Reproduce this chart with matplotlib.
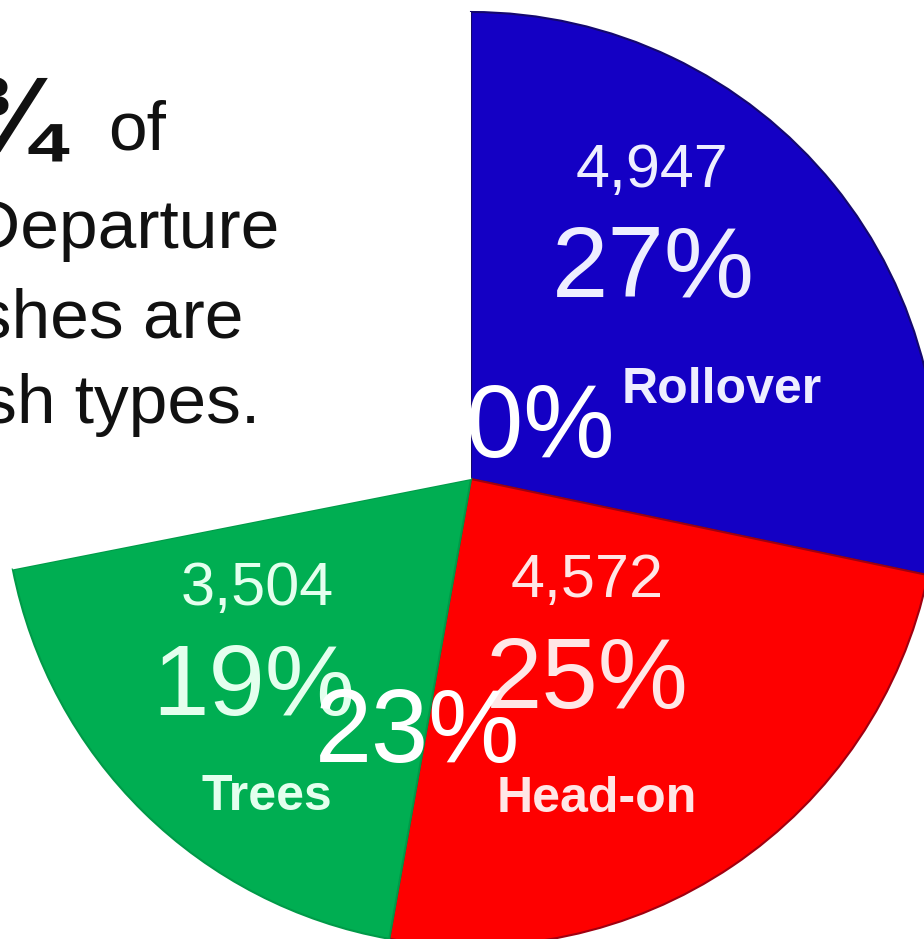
import matplotlib.pyplot as plt

W, H = 924, 939

# wedge shares; the last one is the blank slice
names = ["Rollover", "Head-on", "Trees", ""]
shares = [28.3, 24.5, 19.1, 28.1]
counts = ["4,947", "4,572", "3,504"]
pcts = ["27%", "25%", "19%"]
colors = ["#1400c4", "#fe0000", "#00ae52", "white"]
edges = ["#14086e", "#a00010", "#009a48", "white"]
label_cols = ["#eeeeff", "#ffe6e6", "#e4ffee"]

# stray percentage texts sitting on top of the chart
stray = ["30%", "23%"]

lines = ["Lane Departure", "crashes are", "these crash types."]

fig = plt.figure(figsize=(W / 100, H / 100), dpi=100)
ax = fig.add_axes([0, 0, 1, 1])

wedges, _ = ax.pie(shares, colors=colors, startangle=90, counterclock=False,
                   center=(471, H - 479), radius=467,
                   wedgeprops=dict(linewidth=1.5))
for w, ec in zip(wedges, edges):
    w.set_edgecolor(ec)
wedges[-1].set_linewidth(0)

ax.set_xlim(0, W)
ax.set_ylim(0, H)
ax.set_aspect("equal")
ax.axis("off")

font = "Liberation Sans"

# labels inside the wedges: (x, baseline) in pixels from the top
count_pos = [(652, 187), (587, 597), (257, 605)]
pct_pos = [(653, 297), (587, 708), (254, 715)]
name_pos = [(722, 403), (597, 812), (267, 810)]

for i in range(3):
    ax.text(count_pos[i][0], H - count_pos[i][1], counts[i], family=font,
            fontsize=44, color=label_cols[i], ha="center", va="baseline")
    ax.text(pct_pos[i][0], H - pct_pos[i][1], pcts[i], family=font,
            fontsize=73, color=label_cols[i], ha="center", va="baseline")
    ax.text(name_pos[i][0], H - name_pos[i][1], names[i], family=font,
            fontsize=36, fontweight="bold", color=label_cols[i],
            ha="center", va="baseline")

ax.text(512, H - 457, stray[0], family=font, fontsize=74, color="white",
        ha="center", va="baseline")
ax.text(418, H - 762, stray[1], family=font, fontsize=74, color="white",
        ha="center", va="baseline")

# heading text on the left, cut by the image edge
ax.text(62, H - 152, "Nearly \u00be", family=font, fontsize=78,
        fontweight="bold", color="#111111", ha="right", va="baseline")
ax.text(108, H - 150, "of", family=font, fontsize=50, color="#111111",
        ha="left", va="baseline")
ax.text(279, H - 248, lines[0], family=font, fontsize=50, color="#111111",
        ha="right", va="baseline")
ax.text(244, H - 337, lines[1], family=font, fontsize=50, color="#111111",
        ha="right", va="baseline")
ax.text(260, H - 423, lines[2], family=font, fontsize=50, color="#111111",
        ha="right", va="baseline")

fig.savefig("out.png", dpi=100)
